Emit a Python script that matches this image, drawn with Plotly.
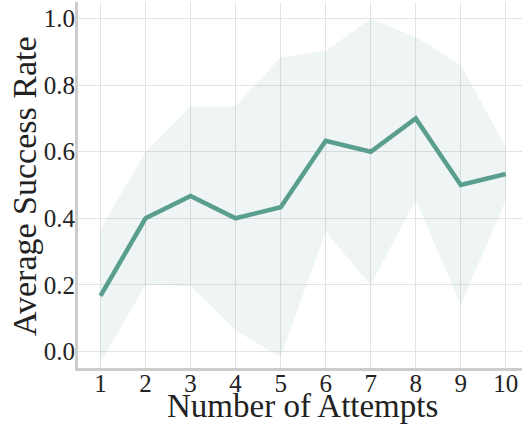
import plotly.graph_objects as go

attempts = [1, 2, 3, 4, 5, 6, 7, 8, 9, 10]
mean_rate = [0.167, 0.400, 0.467, 0.400, 0.433, 0.633, 0.600, 0.700, 0.500, 0.533]
upper_band = [0.367, 0.600, 0.737, 0.737, 0.883, 0.903, 1.000, 0.945, 0.860, 0.615]
lower_band = [-0.033, 0.200, 0.197, 0.063, -0.017, 0.360, 0.200, 0.455, 0.140, 0.455]
y_ticks = [0.0, 0.2, 0.4, 0.6, 0.8, 1.0]

line_color = "#5a9e90"
fill_color = "rgba(90,158,145,0.10)"
font_family = "Liberation Serif, Times New Roman, serif"
text_color = "#222222"

W, H = 522, 426
ML, MR, MT, MB = 78, 0, 2, 58
plot_w = W - ML - MR
plot_h = H - MT - MB

fig = go.Figure()
fig.add_trace(go.Scatter(
    x=attempts + attempts[::-1],
    y=upper_band + lower_band[::-1],
    fill="toself", fillcolor=fill_color,
    line=dict(width=0), mode="lines", hoverinfo="skip", showlegend=False,
))
fig.add_trace(go.Scatter(
    x=attempts, y=mean_rate, mode="lines",
    line=dict(color=line_color, width=4.5), showlegend=False,
))

fig.update_layout(
    width=W, height=H,
    margin=dict(l=ML, r=MR, t=MT, b=MB, autoexpand=False),
    paper_bgcolor="white", plot_bgcolor="white",
    font=dict(family=font_family, color=text_color),
    annotations=[
        dict(text="Number of Attempts", xref="paper", yref="paper",
             x=(302 - ML) / plot_w, y=(H - MB - 406) / plot_h,
             xanchor="center", yanchor="middle", showarrow=False,
             font=dict(size=33, family=font_family, color=text_color)),
        dict(text="Average Success Rate", xref="paper", yref="paper",
             x=(24 - ML) / plot_w, y=(H - MB - 186) / plot_h,
             xanchor="center", yanchor="middle", showarrow=False, textangle=-90,
             font=dict(size=34, family=font_family, color=text_color)),
    ],
)
fig.update_xaxes(
    range=[0.5, 10.36], tickvals=attempts, ticktext=[str(a) for a in attempts],
    showgrid=True, gridcolor="#e3e3e3", gridwidth=1,
    showline=True, linecolor="#cccccc", linewidth=3,
    ticks="", tickfont=dict(size=25, family=font_family, color=text_color),
    ticklabelstandoff=-9,
    automargin=False, zeroline=False,
)
fig.update_yaxes(
    range=[-0.05, 1.05], tickvals=y_ticks, ticktext=[f"{v:.1f}" for v in y_ticks],
    showgrid=True, gridcolor="#e3e3e3", gridwidth=1,
    showline=True, linecolor="#cccccc", linewidth=3,
    ticks="", tickfont=dict(size=25, family=font_family, color=text_color),
    ticklabelstandoff=-5,
    automargin=False, zeroline=False,
)

fig.write_html("out.html", config={"displayModeBar": False},
               post_script="document.body.style.margin='0';document.body.style.overflow='hidden';")
